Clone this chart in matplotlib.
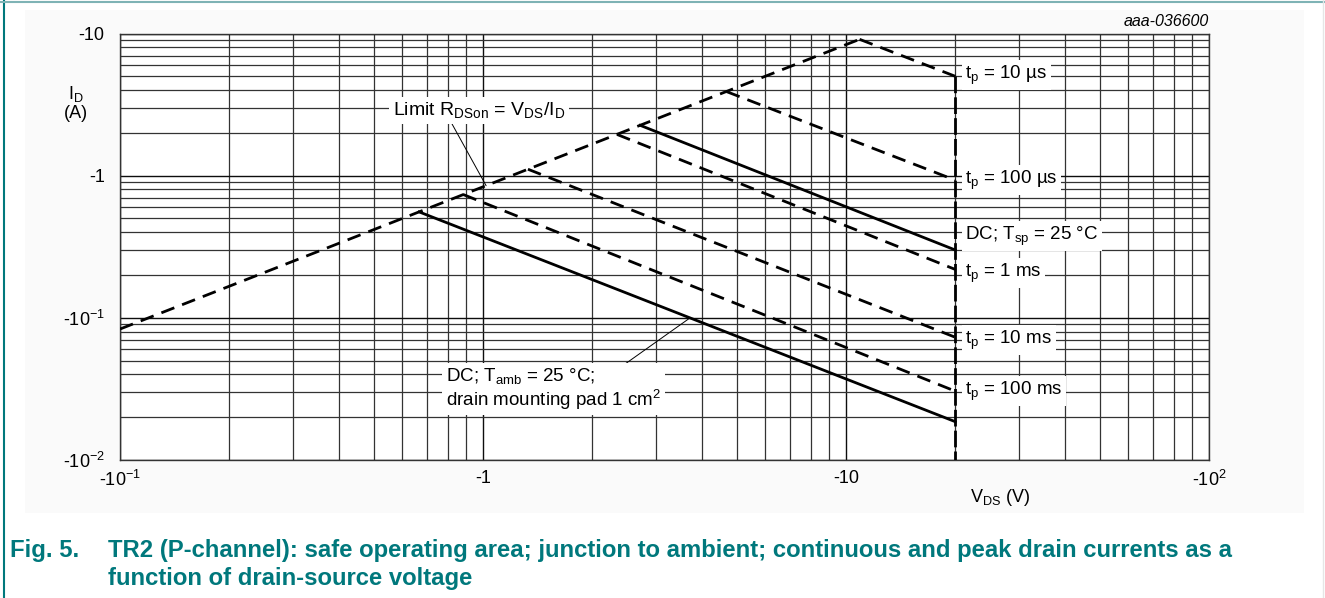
import numpy as np
import matplotlib
matplotlib.use("Agg")
from matplotlib import pyplot as plt
from matplotlib.lines import Line2D
from matplotlib.patches import Rectangle

plt.rcParams['font.family'] = ['Liberation Sans', 'DejaVu Sans']
plt.rcParams['mathtext.fontset'] = 'custom'
plt.rcParams['mathtext.rm'] = 'Liberation Sans'
plt.rcParams['mathtext.it'] = 'Liberation Sans:italic'

TEAL = '#00787c'

# Limit R_DSon line (V, I)
limit_v = [0.1, 10.9]
limit_i = [0.0834, 9.1]

# power-limited lines: (start V, start I) on the limit line -> (20 V, end I)
curves = {
    't$_\\mathrm{p}$ = 10 µs': ([10.9, 20.0], [9.1, 5.0], 'dashed'),
    't$_\\mathrm{p}$ = 100 µs': ([4.69, 20.0], [3.9, 0.93], 'dashed'),
    'DC; T$_\\mathrm{sp}$ = 25 °C': ([2.71, 20.0], [2.26, 0.30], 'solid'),
    't$_\\mathrm{p}$ = 1 ms': ([2.34, 20.0], [1.95, 0.219], 'dashed'),
    't$_\\mathrm{p}$ = 10 ms': ([1.33, 20.0], [1.11, 0.073], 'dashed'),
    't$_\\mathrm{p}$ = 100 ms': ([0.883, 20.0], [0.736, 0.0305], 'dashed'),
    'DC; T$_\\mathrm{amb}$': ([0.667, 20.0], [0.556, 0.0186], 'solid'),
}
# label y positions at the right end
label_y = {
    't$_\\mathrm{p}$ = 10 µs': 5.1,
    't$_\\mathrm{p}$ = 100 µs': 0.93,
    'DC; T$_\\mathrm{sp}$ = 25 °C': 0.376,
    't$_\\mathrm{p}$ = 1 ms': 0.207,
    't$_\\mathrm{p}$ = 10 ms': 0.0698,
    't$_\\mathrm{p}$ = 100 ms': 0.0305,
}
vmax = 20.0
vmax_i = [5.0, 0.01]

x_ticks = [0.1, 1, 10, 100]
x_labels = ['-10$^{-1}$', '-1', '-10', '-10$^{2}$']
y_ticks = [0.01, 0.1, 1, 10]
y_labels = ['-10$^{-2}$', '-10$^{-1}$', '-1', '-10']

fig = plt.figure(figsize=(13.25, 5.98), dpi=100)
ax = fig.add_axes([120 / 1325, 1 - 460 / 598, 1089 / 1325, 426.5 / 598])

# faint background panel and teal frame
fig.patches.append(Rectangle((25 / 1325, 1 - 513 / 598), 1279 / 1325, 503 / 598,
                             transform=fig.transFigure, fc='#fafafa', ec='none', zorder=-10))
fig.lines.append(Line2D([4 / 1325, 4 / 1325], [0, 1], transform=fig.transFigure, color=TEAL, lw=1.5))
fig.lines.append(Line2D([0, 1], [1 - 1.5 / 598, 1 - 1.5 / 598], transform=fig.transFigure, color='#7fb3b5', lw=1.5))
fig.lines.append(Line2D([1323 / 1325, 1323 / 1325], [0, 1], transform=fig.transFigure, color='#e6e6e6', lw=1))

ax.set_xscale('log')
ax.set_yscale('log')
ax.set_xlim(0.1, 100)
ax.set_ylim(0.01, 10)
ax.set_facecolor('white')

ax.grid(True, which='major', color='0.05', lw=1.0)
ax.grid(True, which='minor', color='0.2', lw=0.9)
ax.set_axisbelow(True)
ax.tick_params(which='both', length=0)
ax.tick_params(axis='y', pad=11, labelsize=13)
ax.tick_params(axis='x', pad=7, labelsize=13)
ax.set_xticks(x_ticks)
ax.set_xticklabels(x_labels)
ax.set_yticks(y_ticks)
ax.set_yticklabels(y_labels)
for s in ax.spines.values():
    s.set_color('0.2')
    s.set_linewidth(1.0)

dash = (0, (5, 3))
ax.plot(limit_v, limit_i, color='black', lw=2.0, ls=dash, zorder=3)
for name, (vs, cur, style) in curves.items():
    ax.plot(vs, cur, color='black', lw=2.0, ls=dash if style == 'dashed' else '-', zorder=3)
ax.plot([vmax, vmax], vmax_i, color='black', lw=2.0, ls=(0, (6, 1.5)), zorder=3)

box = dict(fc='white', ec='none', pad=2.5)
for name, yv in label_y.items():
    ax.text(21.3, yv, name, fontsize=13.5, ha='left', va='center', bbox=box, zorder=4)

ax.annotate('Limit R$_\\mathrm{DSon}$ = V$_\\mathrm{DS}$/I$_\\mathrm{D}$', xy=(1.02, 0.85),
            xytext=(0.565, 2.89), fontsize=14, ha='left', va='center', bbox=box, zorder=4,
            arrowprops=dict(arrowstyle='-', color='black', lw=0.7, shrinkA=0, shrinkB=0,
                            relpos=(0.33, 0)))
ax.annotate('DC; T$_\\mathrm{amb}$ = 25 °C;\ndrain mounting pad 1 cm$^2$', xy=(3.72, 0.1),
            xytext=(0.79, 0.0316), fontsize=13.5, ha='left', va='center', bbox=box, zorder=4,
            multialignment='left', linespacing=1.1,
            arrowprops=dict(arrowstyle='-', color='black', lw=0.7, shrinkA=0, shrinkB=0,
                            relpos=(0.82, 1)))

ax.text(-0.0404, 0.837, 'I$_\\mathrm{D}$\n(A)', transform=ax.transAxes, fontsize=13,
        ha='center', va='center', multialignment='center', linespacing=1.15)
ax.text(0.808, -0.087, 'V$_\\mathrm{DS}$ (V)', transform=ax.transAxes, fontsize=13,
        ha='center', va='center')
ax.text(1.0, 1.027, 'aaa-036600', transform=ax.transAxes, fontsize=11.5, style='italic',
        ha='right', va='center')

fig.text(10 / 1325, 1 - 550 / 598, 'Fig. 5.', color=TEAL, fontsize=17.2, weight='bold',
         ha='left', va='center')
fig.text(108 / 1325, 1 - 550 / 598,
         'TR2 (P-channel): safe operating area; junction to ambient; continuous and peak drain currents as a',
         color=TEAL, fontsize=17.2, weight='bold', ha='left', va='center')
fig.text(108 / 1325, 1 - 578 / 598, 'function of drain-source voltage',
         color=TEAL, fontsize=17.2, weight='bold', ha='left', va='center')

fig.savefig('out.png', dpi=100)
